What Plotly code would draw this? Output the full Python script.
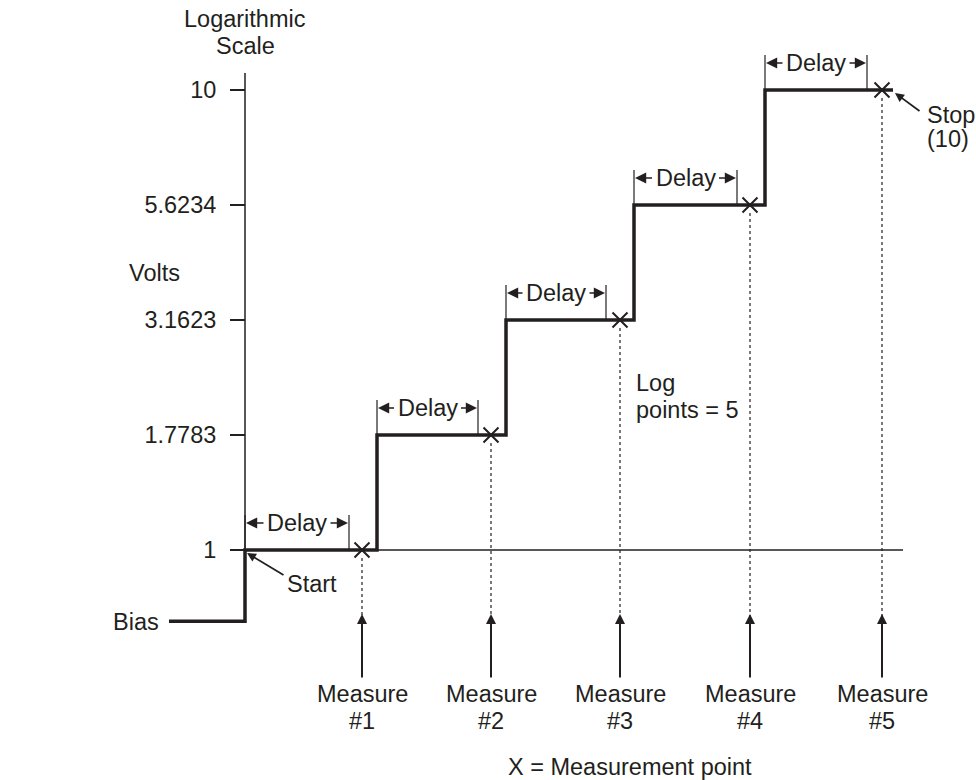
import math
import plotly.graph_objects as go

# ---------------- data ----------------
levels = [1.0, 1.7783, 3.1623, 5.6234, 10.0]
level_labels = ["1", "1.7783", "3.1623", "5.6234", "10"]
bias_level = 0.70
bias_start = -76
step_start = [0, 132, 261, 389, 520]
step_end = 648
delay_end = [104, 233, 361, 492, 622]
measure_t = [117, 246, 375, 505, 637]
measure_labels = ["#1", "#2", "#3", "#4", "#5"]

# ---------------- layout helpers ----------------
W, H = 976, 780
XR = [-245, -245 + W]
PPD = 460.0                  # pixels per decade
YR = [-(H - 550) / PPD, 550 / PPD]
INK = "#231f20"
FONT = "Liberation Sans, Arial, Helvetica, sans-serif"
FS = 23.5


def xd(px):
    """page pixel x -> data x"""
    return XR[0] + px / W * (XR[1] - XR[0])


def ylog(py):
    """page pixel y -> log10 data y"""
    return YR[1] - py / H * (YR[1] - YR[0])


def yv(py):
    return 10 ** ylog(py)


def P(px, py):
    """page pixel -> paper coords"""
    return px / W, 1 - py / H


fig = go.Figure()

# y axis line
fig.add_trace(go.Scatter(x=[0, 0], y=[bias_level, yv(73)], mode="lines",
                         line=dict(color=INK, width=1.5), hoverinfo="skip"))
# baseline at 1
fig.add_trace(go.Scatter(x=[xd(230), xd(903)], y=[1, 1], mode="lines",
                         line=dict(color=INK, width=1.5), hoverinfo="skip"))

# dotted lines from measurement points to arrows
dx, dy = [], []
for t, lv in zip(measure_t, levels):
    dx += [t, t, None]
    dy += [lv * 10 ** (-8 / PPD), yv(616), None]
fig.add_trace(go.Scatter(x=dx, y=dy, mode="lines",
                         line=dict(color=INK, width=1.2, dash="dot"), hoverinfo="skip"))

# delay bracket ticks
bx, by = [], []
for s, e, lv in zip(step_start, delay_end, levels):
    top = lv * 10 ** (35 / PPD)
    bx += [s, s, None, e, e, None]
    by += [lv, top, None, lv, top, None]
fig.add_trace(go.Scatter(x=bx, y=by, mode="lines",
                         line=dict(color=INK, width=1.2), hoverinfo="skip"))

# staircase
fig.add_trace(go.Scatter(x=[bias_start] + step_start + [step_end],
                         y=[bias_level] + levels + [levels[-1]],
                         mode="lines", line=dict(color=INK, width=3.5, shape="hv"),
                         hoverinfo="skip"))

# measurement points
fig.add_trace(go.Scatter(x=measure_t, y=levels, mode="markers",
                         marker=dict(symbol="x-thin", size=15,
                                     line=dict(color=INK, width=2)),
                         hoverinfo="skip"))

ann = []


def txt(x, y, text, xref="paper", yref="paper", xanchor="center", yanchor="middle", size=FS):
    ann.append(dict(x=x, y=y, xref=xref, yref=yref, text=text, showarrow=False,
                    xanchor=xanchor, yanchor=yanchor,
                    font=dict(family=FONT, size=size, color=INK)))


def arrow(tip_x, tip_y, tail_x, tail_y, width, size=1.0):
    ann.append(dict(x=tip_x, y=tip_y, xref="x", yref="y", ax=tail_x, ay=tail_y,
                    axref="x", ayref="y", text="", showarrow=True,
                    arrowhead=2, arrowsize=size,
                    arrowwidth=width, arrowcolor=INK, standoff=0, startstandoff=0))


# Delay labels and arrows
for s, e, lv in zip(step_start, delay_end, levels):
    c = (s + e) / 2
    yl = math.log10(lv) + 27 / PPD
    txt(c, yl, "Delay", xref="x", yref="y")
    arrow(s + 1, yl, c - 32, yl, 1.4, 1.6)
    arrow(e - 1, yl, c + 32, yl, 1.4, 1.6)

# Measure arrows and labels
for t, lab in zip(measure_t, measure_labels):
    arrow(t, ylog(614), t, ylog(679), 2)
    txt(t, ylog(694), "Measure", xref="x", yref="y")
    txt(t, ylog(721), lab, xref="x", yref="y")

# Start
arrow(2, ylog(553), xd(285), ylog(576), 1.8)
txt(xd(285), ylog(584), "Start", xref="x", yref="y", xanchor="left")

# Stop
arrow(xd(895), ylog(93), xd(921), ylog(112), 1.8)
txt(*P(951, 115), "Stop")
txt(*P(948, 139), "(10)")

# other text
txt(*P(245, 19), "Logarithmic")
txt(*P(245, 46), "Scale")
txt(*P(154, 273), "Volts")
txt(*P(161, 622), "Bias", xanchor="right")
txt(*P(634, 383), "Log", xanchor="left")
txt(*P(634, 410), "points = 5", xanchor="left")
txt(*P(630, 767), "X = Measurement point")

fig.update_layout(
    width=W, height=H,
    margin=dict(l=0, r=0, t=0, b=0),
    paper_bgcolor="white", plot_bgcolor="white",
    showlegend=False,
    annotations=ann,
    xaxis=dict(range=XR, visible=False, fixedrange=True),
    yaxis=dict(type="log", range=YR, showgrid=False, zeroline=False,
               showline=False, ticks="outside", ticklen=15, tickwidth=1.5,
               tickcolor=INK, anchor="free", position=245 / W,
               tickvals=levels, ticktext=level_labels,
               ticklabelstandoff=9,
               tickfont=dict(family=FONT, size=FS, color=INK), fixedrange=True),
)

fig.write_html(
    "out.html",
    config={"displayModeBar": False},
    post_script="document.body.style.margin='0';document.body.style.overflow='hidden';",
)
